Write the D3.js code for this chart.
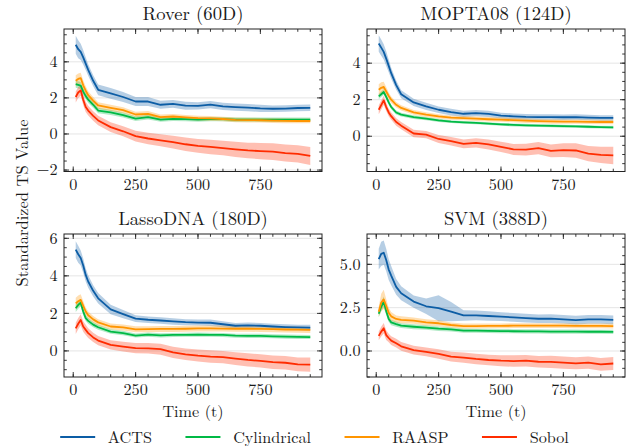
<!DOCTYPE html>
<html>
<head>
<meta charset="utf-8">
<script src="https://cdn.jsdelivr.net/npm/d3@7"></script>
<style>
  body { margin: 0; background: #fff; }
</style>
</head>
<body>
<svg id="chart" width="633" height="446"></svg>
<script>
// Sample times (x axis)
const TIME = [10, 20, 30, 40, 50, 60, 80, 100, 150, 200, 250, 300, 350, 400, 450, 500, 550, 600, 650, 700, 750, 800, 850, 900, 950];

const METHODS = ["ACTS", "Cylindrical", "RAASP", "Sobol"];
const TITLES = ["Rover (60D)", "MOPTA08 (124D)", "LassoDNA (180D)", "SVM (388D)"];
const X_TICKS = [0, 250, 500, 750];

// Rover (60D)
const roverActs     = [4.95, 4.7, 4.55, 4.25, 3.9, 3.55, 2.95, 2.45, 2.25, 2.05, 1.8, 1.8, 1.62, 1.67, 1.57, 1.56, 1.63, 1.53, 1.49, 1.46, 1.42, 1.4, 1.41, 1.44, 1.45];
const roverActsSd   = [0.5, 0.5, 0.45, 0.4, 0.35, 0.32, 0.3, 0.3, 0.3, 0.28, 0.25, 0.25, 0.22, 0.22, 0.22, 0.2, 0.2, 0.2, 0.2, 0.2, 0.2, 0.18, 0.18, 0.18, 0.18];
const roverCyl      = [2.76, 2.72, 2.68, 2.35, 2.1, 1.9, 1.62, 1.3, 1.2, 1.05, 0.85, 0.93, 0.8, 0.84, 0.82, 0.8, 0.82, 0.82, 0.8, 0.8, 0.8, 0.79, 0.8, 0.8, 0.8];
const roverCylSd    = [0.2, 0.2, 0.2, 0.2, 0.18, 0.18, 0.16, 0.15, 0.15, 0.14, 0.13, 0.13, 0.12, 0.12, 0.12, 0.12, 0.12, 0.12, 0.12, 0.12, 0.12, 0.12, 0.12, 0.12, 0.12];
const roverRaasp    = [2.95, 3.05, 3.1, 2.7, 2.4, 2.15, 1.85, 1.58, 1.45, 1.32, 1.08, 1.12, 0.94, 0.97, 0.92, 0.88, 0.86, 0.83, 0.78, 0.77, 0.76, 0.74, 0.73, 0.72, 0.72];
const roverRaaspSd  = [0.3, 0.3, 0.3, 0.28, 0.25, 0.22, 0.2, 0.18, 0.17, 0.16, 0.15, 0.15, 0.14, 0.14, 0.13, 0.13, 0.13, 0.13, 0.13, 0.13, 0.13, 0.13, 0.13, 0.13, 0.13];
const roverSobol    = [2.05, 2.3, 2.42, 1.9, 1.5, 1.3, 1.0, 0.75, 0.38, 0.15, -0.12, -0.25, -0.35, -0.45, -0.57, -0.66, -0.72, -0.78, -0.85, -0.91, -0.95, -0.98, -1.06, -1.1, -1.22];
const roverSobolSd  = [0.3, 0.3, 0.3, 0.3, 0.28, 0.27, 0.26, 0.26, 0.27, 0.28, 0.3, 0.32, 0.33, 0.35, 0.37, 0.38, 0.4, 0.4, 0.42, 0.43, 0.45, 0.46, 0.47, 0.48, 0.5];

// MOPTA08 (124D)
const moptaActs     = [5.08, 4.85, 4.62, 4.25, 3.85, 3.45, 2.8, 2.3, 1.85, 1.64, 1.45, 1.32, 1.23, 1.27, 1.22, 1.13, 1.09, 1.06, 1.05, 1.05, 1.04, 1.05, 1.02, 1.0, 1.0];
const moptaActsSd   = [0.45, 0.45, 0.42, 0.4, 0.35, 0.3, 0.25, 0.22, 0.2, 0.2, 0.18, 0.18, 0.17, 0.17, 0.17, 0.16, 0.16, 0.16, 0.15, 0.15, 0.15, 0.15, 0.15, 0.15, 0.15];
const moptaCyl      = [2.18, 2.3, 2.42, 2.15, 1.85, 1.6, 1.3, 1.18, 1.05, 0.96, 0.87, 0.8, 0.76, 0.73, 0.69, 0.65, 0.62, 0.6, 0.58, 0.57, 0.55, 0.54, 0.52, 0.5, 0.49];
const moptaCylSd    = [0.15, 0.15, 0.15, 0.14, 0.13, 0.12, 0.11, 0.1, 0.1, 0.09, 0.09, 0.08, 0.08, 0.08, 0.08, 0.08, 0.08, 0.08, 0.08, 0.08, 0.08, 0.08, 0.08, 0.08, 0.08];
const moptaRaasp    = [2.55, 2.65, 2.7, 2.45, 2.2, 2.0, 1.72, 1.55, 1.31, 1.18, 1.09, 1.02, 0.99, 0.96, 0.93, 0.91, 0.88, 0.85, 0.83, 0.81, 0.8, 0.8, 0.79, 0.78, 0.78];
const moptaRaaspSd  = [0.3, 0.3, 0.28, 0.25, 0.2, 0.18, 0.15, 0.14, 0.13, 0.13, 0.12, 0.12, 0.12, 0.12, 0.12, 0.12, 0.12, 0.12, 0.12, 0.12, 0.12, 0.12, 0.12, 0.12, 0.12];
const moptaSobol    = [1.45, 1.7, 1.96, 1.6, 1.3, 1.1, 0.78, 0.58, 0.15, 0.09, -0.15, -0.27, -0.42, -0.36, -0.45, -0.58, -0.72, -0.73, -0.65, -0.8, -0.76, -0.78, -0.95, -1.02, -1.05];
const moptaSobolSd  = [0.25, 0.25, 0.25, 0.22, 0.2, 0.2, 0.2, 0.2, 0.2, 0.2, 0.22, 0.23, 0.24, 0.25, 0.27, 0.28, 0.3, 0.32, 0.33, 0.35, 0.37, 0.4, 0.42, 0.45, 0.48];

// LassoDNA (180D)
const lassoActs     = [5.4, 5.15, 4.95, 4.55, 4.05, 3.7, 3.2, 2.8, 2.21, 1.96, 1.72, 1.66, 1.62, 1.57, 1.53, 1.51, 1.5, 1.42, 1.34, 1.36, 1.34, 1.3, 1.27, 1.25, 1.24];
const lassoActsSd   = [0.45, 0.45, 0.4, 0.38, 0.35, 0.33, 0.3, 0.28, 0.25, 0.22, 0.18, 0.17, 0.17, 0.17, 0.16, 0.16, 0.17, 0.16, 0.15, 0.15, 0.15, 0.15, 0.15, 0.15, 0.15];
const lassoCyl      = [2.27, 2.45, 2.57, 2.1, 1.75, 1.6, 1.4, 1.26, 1.03, 0.95, 0.82, 0.87, 0.83, 0.85, 0.86, 0.87, 0.86, 0.85, 0.81, 0.8, 0.8, 0.78, 0.76, 0.75, 0.74];
const lassoCylSd    = [0.2, 0.2, 0.2, 0.18, 0.16, 0.15, 0.14, 0.13, 0.12, 0.12, 0.11, 0.11, 0.11, 0.11, 0.11, 0.11, 0.11, 0.11, 0.11, 0.11, 0.11, 0.11, 0.11, 0.11, 0.11];
const lassoRaasp    = [2.53, 2.65, 2.72, 2.4, 2.1, 1.9, 1.68, 1.52, 1.3, 1.25, 1.15, 1.16, 1.17, 1.17, 1.18, 1.2, 1.2, 1.19, 1.18, 1.18, 1.17, 1.16, 1.14, 1.13, 1.12];
const lassoRaaspSd  = [0.3, 0.3, 0.3, 0.26, 0.22, 0.2, 0.18, 0.17, 0.16, 0.16, 0.16, 0.16, 0.16, 0.16, 0.16, 0.16, 0.16, 0.16, 0.16, 0.16, 0.16, 0.16, 0.16, 0.16, 0.16];
const lassoSobol    = [1.2, 1.45, 1.65, 1.3, 1.12, 0.95, 0.72, 0.55, 0.32, 0.23, 0.15, 0.14, 0.09, -0.08, -0.18, -0.25, -0.3, -0.33, -0.41, -0.48, -0.53, -0.6, -0.63, -0.72, -0.73];
const lassoSobolSd  = [0.3, 0.3, 0.3, 0.28, 0.27, 0.26, 0.25, 0.25, 0.25, 0.26, 0.27, 0.28, 0.29, 0.3, 0.31, 0.32, 0.33, 0.33, 0.34, 0.35, 0.35, 0.36, 0.36, 0.37, 0.38];

// SVM (388D)
const svmActs       = [5.3, 5.6, 5.67, 5.25, 4.7, 4.35, 3.7, 3.33, 2.85, 2.58, 2.47, 2.27, 2.05, 2.05, 2.02, 1.98, 1.94, 1.9, 1.86, 1.87, 1.83, 1.78, 1.82, 1.82, 1.8];
const svmActsSd     = [0.6, 0.7, 0.7, 0.65, 0.6, 0.55, 0.45, 0.4, 0.35, 0.45, 0.75, 0.55, 0.3, 0.28, 0.27, 0.25, 0.25, 0.25, 0.25, 0.25, 0.25, 0.25, 0.25, 0.25, 0.25];
const svmCyl        = [2.15, 2.55, 2.85, 2.3, 1.85, 1.65, 1.55, 1.46, 1.4, 1.35, 1.29, 1.25, 1.18, 1.17, 1.16, 1.15, 1.14, 1.13, 1.13, 1.12, 1.12, 1.12, 1.11, 1.11, 1.1];
const svmCylSd      = [0.2, 0.25, 0.3, 0.22, 0.18, 0.16, 0.15, 0.14, 0.14, 0.13, 0.13, 0.12, 0.12, 0.12, 0.12, 0.12, 0.12, 0.12, 0.12, 0.12, 0.12, 0.12, 0.12, 0.12, 0.12];
const svmRaasp      = [2.27, 2.8, 2.98, 2.6, 2.2, 2.0, 1.85, 1.8, 1.75, 1.65, 1.6, 1.5, 1.44, 1.44, 1.45, 1.45, 1.46, 1.46, 1.46, 1.46, 1.46, 1.45, 1.45, 1.45, 1.44];
const svmRaaspSd    = [0.3, 0.5, 0.55, 0.4, 0.3, 0.25, 0.2, 0.2, 0.18, 0.18, 0.17, 0.15, 0.14, 0.14, 0.14, 0.14, 0.14, 0.14, 0.14, 0.14, 0.14, 0.14, 0.14, 0.14, 0.14];
const svmSobol      = [0.87, 1.12, 1.31, 0.92, 0.75, 0.6, 0.45, 0.27, 0.05, -0.05, -0.17, -0.33, -0.38, -0.46, -0.52, -0.56, -0.58, -0.56, -0.62, -0.63, -0.67, -0.71, -0.67, -0.77, -0.72];
const svmSobolSd    = [0.25, 0.28, 0.3, 0.28, 0.25, 0.25, 0.25, 0.25, 0.25, 0.25, 0.27, 0.28, 0.3, 0.3, 0.3, 0.32, 0.33, 0.33, 0.33, 0.35, 0.35, 0.35, 0.35, 0.37, 0.37];

// axis limits and major y ticks
const Y_LIMITS = [[-2.08, 5.82], [-1.93, 5.87], [-1.39, 6.23], [-1.5, 6.75]];
const Y_TICKS = [[-2, 0, 2, 4], [0, 2, 4], [0, 2, 4, 6], [0, 2.5, 5]];
const X_LIMITS = [-37, 997];

const panelMeans = [
    [roverActs, roverCyl, roverRaasp, roverSobol],
    [moptaActs, moptaCyl, moptaRaasp, moptaSobol],
    [lassoActs, lassoCyl, lassoRaasp, lassoSobol],
    [svmActs, svmCyl, svmRaasp, svmSobol]
];
const panelSds = [
    [roverActsSd, roverCylSd, roverRaaspSd, roverSobolSd],
    [moptaActsSd, moptaCylSd, moptaRaaspSd, moptaSobolSd],
    [lassoActsSd, lassoCylSd, lassoRaaspSd, lassoSobolSd],
    [svmActsSd, svmCylSd, svmRaaspSd, svmSobolSd]
];

const colors = ["#0C5DA5", "#00B945", "#FF9500", "#FF2C00"];
const FONT = "\"Latin Modern Roman\"";

// frame boxes for the 2x2 grid
const cols = [[64, 322], [367, 625]];
const rows = [[29, 171.5], [234, 377]];

const svg = d3.select("#chart");

function label(sel, size) {
    return sel.style("font-family", FONT).attr("font-size", size).attr("fill", "#1a1a1a");
}

TITLES.forEach(function(title, p) {
    const [x0, x1] = cols[p % 2];
    const [y0, y1] = rows[Math.floor(p / 2)];
    const x = d3.scaleLinear().domain(X_LIMITS).range([x0, x1]);
    const y = d3.scaleLinear().domain(Y_LIMITS[p]).range([y1, y0]);
    const fmt = p === 3 ? d3.format(".1f") : d3.format("d");

    const g = svg.append("g");

    // horizontal grid at major ticks
    g.selectAll("line.grid").data(Y_TICKS[p]).enter().append("line")
        .attr("x1", x0).attr("x2", x1)
        .attr("y1", d => y(d)).attr("y2", d => y(d))
        .attr("stroke", "#e5e5e5").attr("stroke-width", 1);

    // uncertainty bands then mean lines
    const area = d3.area()
        .x((d, i) => x(TIME[i]))
        .y0(d => y(d[0] - d[1]))
        .y1(d => y(d[0] + d[1]));
    const line = d3.line()
        .x((d, i) => x(TIME[i]))
        .y(d => y(d));

    panelMeans[p].forEach(function(means, m) {
        const pairs = means.map((v, i) => [v, panelSds[p][m][i]]);
        g.append("path")
            .attr("d", area(pairs))
            .attr("fill", colors[m])
            .attr("fill-opacity", 0.3);
    });
    panelMeans[p].forEach(function(means, m) {
        g.append("path")
            .attr("d", line(means))
            .attr("fill", "none")
            .attr("stroke", colors[m])
            .attr("stroke-width", 1.8)
            .attr("stroke-linejoin", "round");
    });

    // inward ticks on all four sides
    const xMinor = d3.range(0, 1000, 50).filter(v => v >= X_LIMITS[0] && v <= X_LIMITS[1]);
    const yStep = 0.5;
    const yMinor = d3.range(Math.ceil(Y_LIMITS[p][0] / yStep) * yStep, Y_LIMITS[p][1], yStep);

    function ticks(vals, len, axis) {
        vals.forEach(function(v) {
            if (axis === "x") {
                const px = x(v);
                g.append("line").attr("x1", px).attr("x2", px).attr("y1", y1).attr("y2", y1 - len);
                g.append("line").attr("x1", px).attr("x2", px).attr("y1", y0).attr("y2", y0 + len);
            } else {
                const py = y(v);
                g.append("line").attr("x1", x0).attr("x2", x0 + len).attr("y1", py).attr("y2", py);
                g.append("line").attr("x1", x1).attr("x2", x1 - len).attr("y1", py).attr("y2", py);
            }
        });
    }
    ticks(xMinor, 2.8, "x");
    ticks(X_TICKS, 5, "x");
    ticks(yMinor, 2.8, "y");
    ticks(Y_TICKS[p], 5, "y");
    g.selectAll("line").filter(function() { return !this.getAttribute("stroke"); })
        .attr("stroke", "#222").attr("stroke-width", 0.9);

    g.append("rect")
        .attr("x", x0).attr("y", y0)
        .attr("width", x1 - x0).attr("height", y1 - y0)
        .attr("fill", "none").attr("stroke", "#222").attr("stroke-width", 1);

    // tick labels
    label(g.selectAll("text.xt").data(X_TICKS).enter().append("text"), 16.2)
        .attr("x", d => x(d)).attr("y", y1 + 18)
        .attr("text-anchor", "middle")
        .text(d => d);
    label(g.selectAll("text.yt").data(Y_TICKS[p]).enter().append("text"), 16.2)
        .attr("x", x0 - 6.5).attr("y", d => y(d) + 5.2)
        .attr("text-anchor", "end")
        .text(d => fmt(d));

    label(g.append("text"), 18.6)
        .attr("x", (x0 + x1) / 2).attr("y", y0 - 9)
        .attr("text-anchor", "middle")
        .text(title);

    if (p >= 2) {
        label(g.append("text"), 16.2)
            .attr("x", (x0 + x1) / 2).attr("y", 416.7)
            .attr("text-anchor", "middle")
            .text("Time (t)");
    }
});

label(svg.append("text"), 16.5)
    .attr("transform", "translate(28,203) rotate(-90)")
    .attr("text-anchor", "middle")
    .text("Standardized TS Value");

// legend along the bottom, laid out from measured text widths
const legend = svg.append("g");
const items = METHODS.map(function(name, m) {
    const item = legend.append("g");
    item.append("line")
        .attr("x1", 0).attr("x2", 35).attr("y1", 0).attr("y2", 0)
        .attr("stroke", colors[m]).attr("stroke-width", 1.8);
    const t = label(item.append("text"), 16.2)
        .attr("x", 47.7).attr("y", 5.5)
        .text(name);
    return { item, w: 47.7 + t.node().getComputedTextLength() };
});
const colGap = 33.5;
const total = d3.sum(items, d => d.w) + colGap * (items.length - 1);
let cx = 314.5 - total / 2;
items.forEach(function(d) {
    d.item.attr("transform", "translate(" + cx + ",437)");
    cx += d.w + colGap;
});
</script>
</body>
</html>
